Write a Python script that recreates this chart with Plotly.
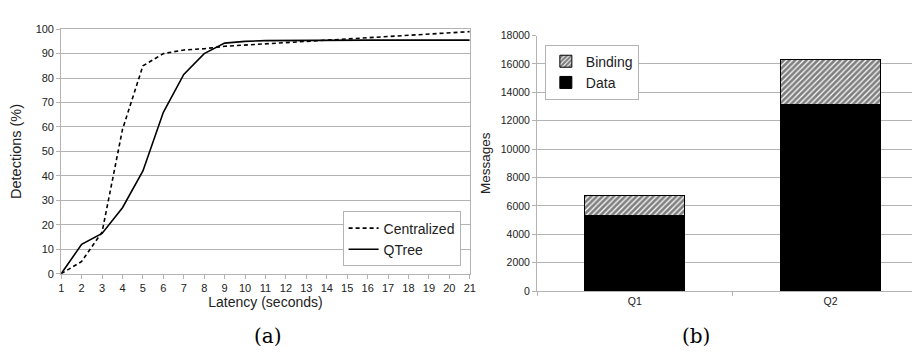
import plotly.graph_objects as go

# ---- data (a) ----
latency = list(range(1, 22))
centralized = [0, 5, 17, 59, 85, 90, 91.5, 92, 93, 93.5, 94, 94.5, 95, 95.5, 96, 96.5, 97, 97.5, 98, 98.5, 99]
qtree = [0, 12, 16.5, 27, 42, 66, 81.5, 90, 94.3, 95, 95.3, 95.4, 95.4, 95.5, 95.5, 95.5, 95.5, 95.5, 95.5, 95.5, 95.5]

# ---- data (b) ----
queries = ["Q1", "Q2"]
data_msgs = [5300, 13150]
binding_msgs = [1400, 3150]

GRID = "#b3b3b3"
TXT = "#222222"
SANS = "Liberation Sans, Arial, sans-serif"

fig = go.Figure()

fig.add_trace(go.Scatter(x=latency, y=centralized, mode="lines", name="Centralized",
                         line=dict(color="black", width=1.6, dash="4px,3px"),
                         xaxis="x", yaxis="y", legend="legend"))
fig.add_trace(go.Scatter(x=latency, y=qtree, mode="lines", name="QTree",
                         line=dict(color="black", width=1.6),
                         xaxis="x", yaxis="y", legend="legend"))

fig.add_trace(go.Bar(x=queries, y=data_msgs, name="Data",
                     marker=dict(color="black", line=dict(color="black", width=1)),
                     xaxis="x2", yaxis="y2", legend="legend2"))
fig.add_trace(go.Bar(x=queries, y=binding_msgs, name="Binding",
                     marker=dict(color="white", line=dict(color="black", width=1),
                                 pattern=dict(shape="/", fgcolor="black", bgcolor="white",
                                              size=4, solidity=0.7)),
                     xaxis="x2", yaxis="y2", legend="legend2"))

fig.update_layout(
    width=920, height=359,
    margin=dict(l=0, r=0, t=0, b=0),
    paper_bgcolor="white", plot_bgcolor="white",
    font=dict(family=SANS, color=TXT, size=10),
    barmode="stack", bargap=0.49,
    showlegend=True,
    xaxis=dict(domain=[0.0551, 0.5036], range=[1, 21], dtick=1, tick0=1,
               showgrid=False, zeroline=False, showline=True, linecolor=GRID, linewidth=1,
               mirror=True, ticks="outside", ticklen=4, tickcolor=GRID,
               tickfont=dict(size=11, color=TXT),
               title=dict(text="Latency (seconds)", font=dict(size=14, color=TXT), standoff=4),
               anchor="y"),
    yaxis=dict(domain=[0.2515, 0.9563], range=[0, 100], dtick=10,
               showgrid=True, gridcolor=GRID, gridwidth=1, zeroline=False,
               showline=True, linecolor=GRID, linewidth=1, mirror=True,
               ticks="outside", ticklen=4, tickcolor=GRID,
               tickfont=dict(size=11, color=TXT),
               title=dict(text="Detections (%)", font=dict(size=14.5, color=TXT), standoff=12),
               anchor="x"),
    xaxis2=dict(domain=[0.5774, 1.0], range=[-0.5, 1.467], type="category",
                showgrid=False, zeroline=False, showline=True, linecolor=GRID, linewidth=1,
                ticks="outside", ticklen=4, tickcolor=GRID, tickson="boundaries",
                tickfont=dict(size=10.5, color=TXT), anchor="y2"),
    yaxis2=dict(domain=[0.2014, 0.9379], range=[0, 18000], dtick=2000, tickformat="d",
                showgrid=True, gridcolor=GRID, gridwidth=1, zeroline=False,
                showline=True, linecolor=GRID, linewidth=1,
                ticks="outside", ticklen=4, tickcolor=GRID,
                tickfont=dict(size=10.5, color=TXT),
                title=dict(text="Messages", font=dict(size=13.5, color=TXT), standoff=6),
                anchor="x2"),
    legend=dict(x=0.364, y=0.4309, xanchor="left", yanchor="top",
                bgcolor="white", bordercolor=GRID, borderwidth=1,
                font=dict(size=14, color=TXT), itemwidth=30,
                tracegroupgap=0, traceorder="normal"),
    legend2=dict(x=0.586, y=0.9117, xanchor="left", yanchor="top",
                 bgcolor="white", bordercolor=GRID, borderwidth=1,
                 font=dict(size=14, color=TXT), itemwidth=30,
                 traceorder="reversed"),
    annotations=[
        dict(text="(a)", x=243 / 920, y=1 - 348 / 359, xref="paper", yref="paper",
             showarrow=False, font=dict(family="DejaVu Serif, serif", size=20, color="black")),
        dict(text="(b)", x=708 / 920, y=1 - 348 / 359, xref="paper", yref="paper",
             showarrow=False, font=dict(family="DejaVu Serif, serif", size=20, color="black")),
    ],
)

fig.write_html("out.html")
